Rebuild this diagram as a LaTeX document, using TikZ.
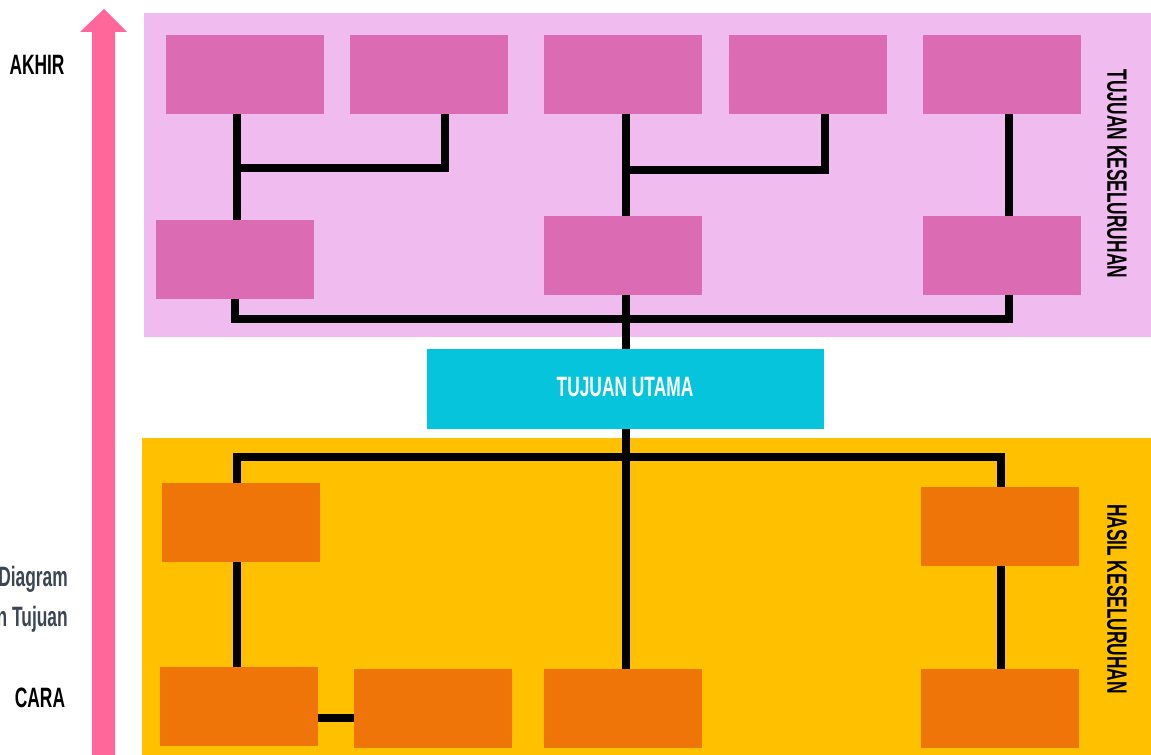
\documentclass[tikz,border=0pt]{standalone}
\usepackage{fontspec}
\setmainfont{Liberation Sans}[FakeStretch=0.62]
\definecolor{pinkbg}{HTML}{F0BBEE}
\definecolor{pinkbox}{HTML}{DB6BB3}
\definecolor{arrowpink}{HTML}{FF6699}
\definecolor{cyanbox}{HTML}{06C4DB}
\definecolor{yellowbg}{HTML}{FFC000}
\definecolor{orangebox}{HTML}{F07508}
\definecolor{slate}{HTML}{3B4556}
\begin{document}
\begin{tikzpicture}[x=0.75pt,y=-0.75pt,
  box/.style={minimum width=118.5pt,minimum height=59.25pt,inner sep=0pt,outer sep=0pt},
  pbox/.style={box,fill=pinkbox},
  obox/.style={box,fill=orangebox},
  conn/.style={line width=6pt,black},
  lbl/.style={font=\fontsize{21pt}{24pt}\selectfont\bfseries,inner sep=0pt},
]
\useasboundingbox (0,0) rectangle (1151,755);
% backgrounds
\fill[pinkbg] (144,13) rectangle (1151,337);
\fill[yellowbg] (142,438) rectangle (1151,755);
% arrow
\fill[arrowpink] (92,755) -- (92,32) -- (80,32) -- (104,9) -- (127,32) -- (115,32) -- (115,755) -- cycle;
% pink boxes
\node[pbox] (p1) at (245,74.5) {};
\node[pbox] (p2) at (429,74.5) {};
\node[pbox] (p3) at (623,74.5) {};
\node[pbox] (p4) at (808,74.5) {};
\node[pbox] (p5) at (1001.5,74.5) {};
\node[pbox] (q1) at (235,259.5) {};
\node[pbox] (q2) at (623,255.5) {};
\node[pbox] (q3) at (1001.5,255.5) {};
% main
\node[fill=cyanbox,minimum width=297.75pt,minimum height=60pt,inner sep=0pt,outer sep=0pt] (m) at (625.5,389) {};
\node[lbl,text=white] (mt) at (625,387) {TUJUAN UTAMA};
% orange boxes
\node[obox] (o1) at (241,522.5) {};
\node[obox] (o2) at (1000,526.5) {};
\node[obox] (o3) at (239,706) {};
\node[obox] (o4) at (433,708) {};
\node[obox] (o5) at (623,708) {};
\node[obox] (o6) at (1000,708) {};
% connectors top
\draw[conn] (237,0 |- p1.south) -- (237,0 |- q1.north);
\draw[conn] (237,168) -- (445,168) -- (445,0 |- p2.south);
\draw[conn] (626,0 |- p3.south) -- (626,0 |- q2.north);
\draw[conn] (626,170) -- (825,170) -- (825,0 |- p4.south);
\draw[conn] (1009,0 |- p5.south) -- (1009,0 |- q3.north);
\draw[conn] (235,0 |- q1.south) -- (235,319) -- (1009,319) -- (1009,0 |- q3.south);
\draw[conn] (626,0 |- q2.south) -- (626,0 |- m.north);
% connectors bottom
\draw[conn] (626,0 |- m.south) -- (626,0 |- o5.north);
\draw[conn] (237,0 |- o1.north) -- (237,457) -- (1001,457) -- (1001,0 |- o2.north);
\draw[conn] (237,0 |- o1.south) -- (237,0 |- o3.north);
\draw[conn] (1001,0 |- o2.south) -- (1001,0 |- o6.north);
\draw[conn] (o3.east |- 0,718) -- (o4.west |- 0,718);
% labels
\node[lbl] (akhir) at (37,65) {AKHIR};
\node[lbl] (cara) at (40,698) {CARA};
\node[lbl,text=slate,anchor=east] (d1) at (68,579) {Diagram};
\node[lbl,text=slate,anchor=east] (d2) at (68,619) {n Tujuan};
\node[lbl,rotate=-90] (tk) at (1117,174) {TUJUAN KESELURUHAN};
\node[lbl,rotate=-90] (hk) at (1117,599) {HASIL KESELURUHAN};
\end{tikzpicture}
\end{document}
